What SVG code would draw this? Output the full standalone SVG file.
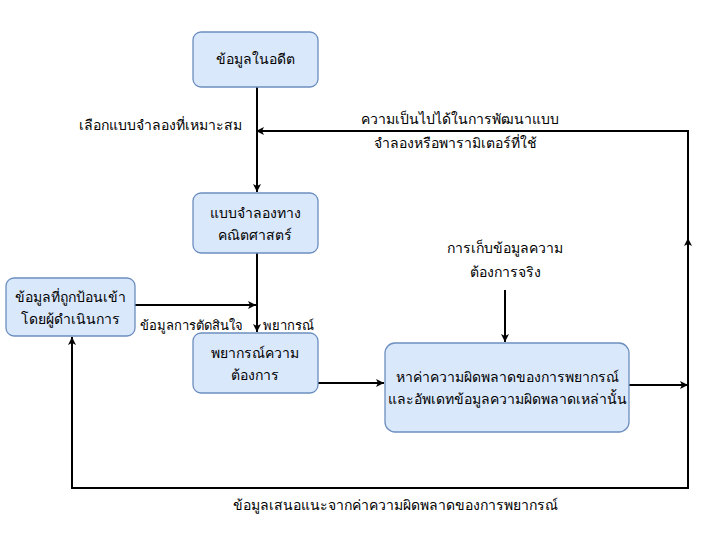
<svg xmlns="http://www.w3.org/2000/svg" width="719" height="533" viewBox="0 0 719 533">
<defs>
<marker id="a" markerWidth="10" markerHeight="10" refX="9" refY="5" orient="auto" markerUnits="userSpaceOnUse"><path d="M1,1 L9,5 L1,9 L3,5 Z" fill="#000"/></marker>
<style>
.n{fill:#dae8fc;stroke:#6c8ebf;stroke-width:1.3}
.t{font-family:"Noto Sans","DejaVu Sans",sans-serif;font-size:14px;fill:#000;text-anchor:middle}
.s{text-anchor:start;font-size:13px}
.c{fill:none;stroke:#000;stroke-width:2}
</style>
</defs>
<rect width="719" height="533" fill="#fff"/>
<g id="connectors">
<path class="c" d="M257,87 V192" marker-end="url(#a)"/>
<path class="c" d="M688,385 V131 H256" marker-end="url(#a)"/>
<path class="c" d="M688,300 V238" marker-end="url(#a)"/>
<path class="c" d="M257,253 V332" marker-end="url(#a)"/>
<path class="c" d="M135,305 H256" marker-end="url(#a)"/>
<path class="c" d="M318,383 H384" marker-end="url(#a)"/>
<path class="c" d="M629,385 H688" marker-end="url(#a)"/>
<path class="c" d="M505,290 V342" marker-end="url(#a)"/>
<path class="c" d="M688,385 V488 H72 V337" marker-end="url(#a)"/>
</g>
<g id="n1"><rect class="n" x="193" y="32" width="125" height="55" rx="8"/><text class="t" x="255" y="64">ข้อมูลในอดีต</text></g>
<g id="n2"><rect class="n" x="193" y="193" width="125" height="60" rx="8"/><text class="t" x="255" y="218">แบบจำลองทาง</text><text class="t" x="255" y="240">คณิตศาสตร์</text></g>
<g id="n3"><rect class="n" x="193" y="333" width="125" height="60" rx="8"/><text class="t" x="255" y="358">พยากรณ์ความ</text><text class="t" x="255" y="380">ต้องการ</text></g>
<g id="n4"><rect class="n" x="6" y="278" width="129" height="58" rx="8"/><text class="t" x="70" y="302">ข้อมูลที่ถูกป้อนเข้า</text><text class="t" x="70" y="324">โดยผู้ดำเนินการ</text></g>
<g id="n5"><rect class="n" x="385" y="343" width="244" height="89" rx="10"/><text class="t" x="507" y="382">หาค่าความผิดพลาดของการพยากรณ์</text><text class="t" x="507" y="404">และอัพเดทข้อมูลความผิดพลาดเหล่านั้น</text></g>
<g id="labels">
<text class="t" x="160" y="130">เลือกแบบจำลองที่เหมาะสม</text>
<text class="t" x="460" y="124">ความเป็นไปได้ในการพัฒนาแบบ</text>
<text class="t" x="455" y="148">จำลองหรือพารามิเตอร์ที่ใช้</text>
<text class="t" x="505" y="253">การเก็บข้อมูลความ</text>
<text class="t" x="505" y="277">ต้องการจริง</text>
<text class="t s" x="140" y="330">ข้อมูลการตัดสินใจ</text>
<text class="t s" x="263" y="330">พยากรณ์</text>
<text class="t" x="395" y="510">ข้อมูลเสนอแนะจากค่าความผิดพลาดของการพยากรณ์</text>
</g>
</svg>
